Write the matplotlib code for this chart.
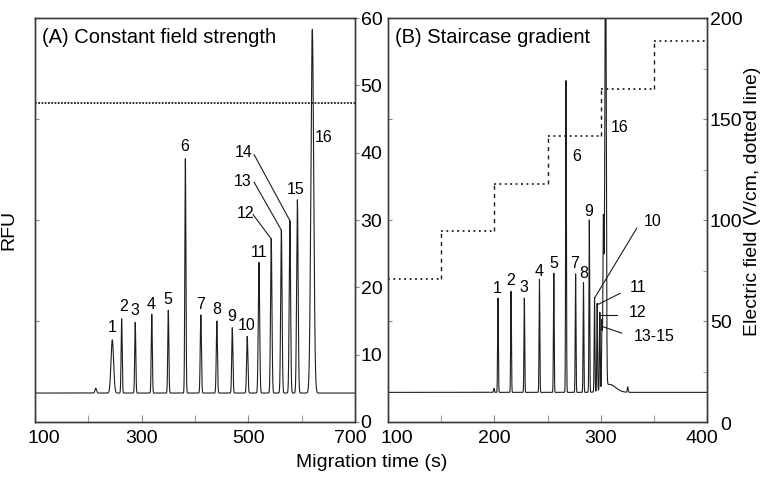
import numpy as np
import matplotlib
matplotlib.use("Agg")
import matplotlib.pyplot as plt
import matplotlib.transforms as mtransforms
from matplotlib.ticker import MultipleLocator

plt.rcParams['font.family'] = ['Liberation Sans', 'DejaVu Sans']
plt.rcParams['font.size'] = 14

# ---------- data: panel A (constant field) ----------
a_base = 4.3
a_peak_t = [245, 262.5, 288, 319, 350, 382, 411, 441, 470, 498, 520, 543, 562, 578, 592, 620, 214]
a_peak_top = [12.2, 15.4, 14.8, 16.0, 16.6, 39.1, 15.9, 15.0, 14.0, 12.7, 23.7, 27.2, 28.5, 29.9, 33.0, 58.3, 5.0]
a_peak_sd = [2.4, 1.0, 1.0, 1.0, 1.0, 1.0, 1.1, 1.1, 1.1, 1.2, 1.3, 1.3, 1.3, 1.3, 1.4, 2.6, 1.5]
a_field = 158
a_xticks = [100, 300, 500, 700]
a_xminor = [200, 400, 600]

a_lab = ['1', '2', '3', '4', '5', '6', '7', '8', '9', '10', '11', '12', '13', '14', '15', '16']
a_lab_x = [244, 267, 288, 318, 350, 381, 411, 441, 469, 496, 521, 494, 490, 491, 589, 642]
a_lab_y = [14.1, 17.1, 16.5, 17.5, 18.2, 40.9, 17.4, 16.7, 15.6, 14.3, 25.2, 30.9, 35.7, 40.0, 34.6, 42.2]
# leader lines (label side start, peak index)
a_lead_start = [(509, 30.8), (511, 35.6), (511, 39.7)]
a_lead_peak = [11, 12, 13]

# ---------- data: panel B (staircase gradient) ----------
b_base = 4.4
b_peak_t = [203.4, 215.7, 228.2, 242.4, 255.9, 267.4, 276.4, 283.8, 289.3, 294.2, 296.7, 299.2,
            301.2, 302.5, 303.4, 304.6, 199.6, 308, 325.4]
b_peak_top = [18.4, 19.4, 18.4, 21.2, 22.1, 50.7, 22.0, 20.7, 30.0, 18.4, 17.4, 15.9,
              14.2, 29.5, 13.5, 75.0, 5.0, 5.6, 5.2]
b_peak_sd = [0.35, 0.35, 0.35, 0.35, 0.35, 0.35, 0.35, 0.35, 0.35, 0.35, 0.35, 0.35,
             0.35, 0.45, 0.35, 0.6, 0.4, 6.0, 0.4]
b_step_t = [100, 150, 200, 250, 300, 350, 400]
b_step_field = [71, 94.5, 118, 141.5, 165, 188.5]

b_lab = ['1', '2', '3', '4', '5', '6', '7', '8', '9', '10', '11', '12', '13-15', '16']
b_lab_x = [202.2, 215, 227.6, 241.7, 255.6, 277.5, 275.6, 283.8, 288.4, 349, 335, 335, 350, 317.6]
b_lab_y = [19.9, 21.0, 20.0, 22.4, 23.5, 39.4, 23.5, 22.1, 31.2, 29.8, 20.0, 16.2, 12.7, 43.7]
b_lead_start = [(334, 28.8), (318.2, 19.1), (315, 15.9), (319.8, 13.2)]
b_lead_peak = [9, 10, 11, 12]


def trace(t, base, centers, tops, sds):
    y = np.full_like(t, base)
    for c, h, s in zip(centers, tops, sds):
        y += (h - base) * np.exp(-0.5 * ((t - c) / s) ** 2)
    return y


def shift_label(lbl, fig, dx, dy=0):
    off = mtransforms.ScaledTranslation(dx / 100, dy / 100, fig.dpi_scale_trans)
    lbl.set_transform(lbl.get_transform() + off)


fig = plt.figure(figsize=(7.67, 4.79), dpi=100)
axA = fig.add_axes([0.0456, 0.119, 0.4172, 0.8434])
axB = fig.add_axes([0.5059, 0.119, 0.4159, 0.8434])
axA2 = axA.twinx()
axB2 = axB.twinx()

line_c = '#1e1e1e'
spine_c = '#3a3a3a'

# ---- panel A ----
tA = np.arange(100, 700.01, 0.2)
axA.plot(tA, trace(tA, a_base, a_peak_t, a_peak_top, a_peak_sd), color=line_c, lw=0.8)
axA.set_xlim(100, 700)
axA.set_ylim(0, 60)
axA.set_xticks(a_xticks)
axA.set_xticks(a_xminor, minor=True)
axA.yaxis.set_major_locator(MultipleLocator(10))
axA.tick_params(axis='x', which='both', direction='in', length=5, pad=6, labelsize=14)
axA.text(0.022, 0.975, '(A) Constant field strength', transform=axA.transAxes,
         va='top', ha='left', fontsize=14.5)

for lab, x, y in zip(a_lab, a_lab_x, a_lab_y):
    axA.text(x, y, lab, ha='center', va='center', fontsize=11.5)
for (sx, sy), k in zip(a_lead_start, a_lead_peak):
    axA.plot([sx, a_peak_t[k]], [sy, a_peak_top[k]], color=line_c, lw=0.8)

axA2.set_ylim(0, 200)
axA2.axhline(a_field, color=line_c, lw=1.3, linestyle=(0, (1, 0.8)))
axA2.yaxis.set_major_locator(MultipleLocator(50))

# RFU ticks on the right of panel A, field ticks (unlabelled) on the left
axA.yaxis.tick_right()
axA.tick_params(axis='y', direction='out', length=3, pad=1, labelsize=14)
axA2.yaxis.tick_left()
axA2.tick_params(axis='y', direction='in', length=3, labelleft=False)
axA2.set_ylabel('RFU', fontsize=14)
axA2.yaxis.set_label_position('left')
axA2.yaxis.set_label_coords(-0.055, 0.475)

# ---- panel B ----
tB = np.arange(100, 400.01, 0.05)
axB.plot(tB, trace(tB, b_base, b_peak_t, b_peak_top, b_peak_sd), color=line_c, lw=0.8)
axB.set_xlim(100, 400)
axB.set_ylim(0, 60)
axB.set_xticks([100, 200, 300, 400])
axB.xaxis.set_minor_locator(MultipleLocator(50))
axB.tick_params(axis='x', which='both', direction='in', length=5, pad=6, labelsize=14)
axB.tick_params(axis='y', left=False, labelleft=False, right=False, labelright=False)
axB.text(0.022, 0.975, '(B) Staircase gradient', transform=axB.transAxes,
         va='top', ha='left', fontsize=14.5)

for lab, x, y in zip(b_lab, b_lab_x, b_lab_y):
    axB.text(x, y, lab, ha='center', va='center', fontsize=11.5)
for (sx, sy), k in zip(b_lead_start, b_lead_peak):
    axB.plot([sx, b_peak_t[k]], [sy, b_peak_top[k]], color=line_c, lw=0.8)

axB2.set_ylim(0, 200)
axB2.hlines(b_step_field, b_step_t[:-1], b_step_t[1:], color=line_c, lw=1.3,
            linestyles=[(0, (1, 2))])
axB2.vlines(b_step_t[1:-1], b_step_field[:-1], b_step_field[1:], color=line_c, lw=1.0,
            linestyles=[(0, (3, 3))])
axB2.set_yticks([0, 50, 100, 150, 200])
axB2.yaxis.set_minor_locator(MultipleLocator(25))
axB2.tick_params(axis='y', which='major', direction='in', length=3, pad=2, left=True,
                 right=True, labelsize=14)
axB2.tick_params(axis='y', which='minor', direction='in', length=3, left=False, right=True)
axB2.set_ylabel('Electric field (V/cm, dotted line)', fontsize=14)
axB2.yaxis.set_label_coords(1.115, 0.547)

for ax in (axA, axA2, axB, axB2):
    for s in ax.spines.values():
        s.set_color(spine_c)
        s.set_linewidth(1.0)
    ax.tick_params(which='both', color='#888')

# edge tick labels sit slightly inside the frame, as in the original
for ax in (axA, axB):
    ticks = ax.xaxis.get_major_ticks()
    shift_label(ticks[0].label1, fig, 9)
    shift_label(ticks[-1].label1, fig, -5)
shift_label(axB2.yaxis.get_major_ticks()[0].label2, fig, 10, -2)

fig.text(0.484, 0.035, 'Migration time (s)', ha='center', va='center', fontsize=14)

fig.savefig('out.png', dpi=100)
